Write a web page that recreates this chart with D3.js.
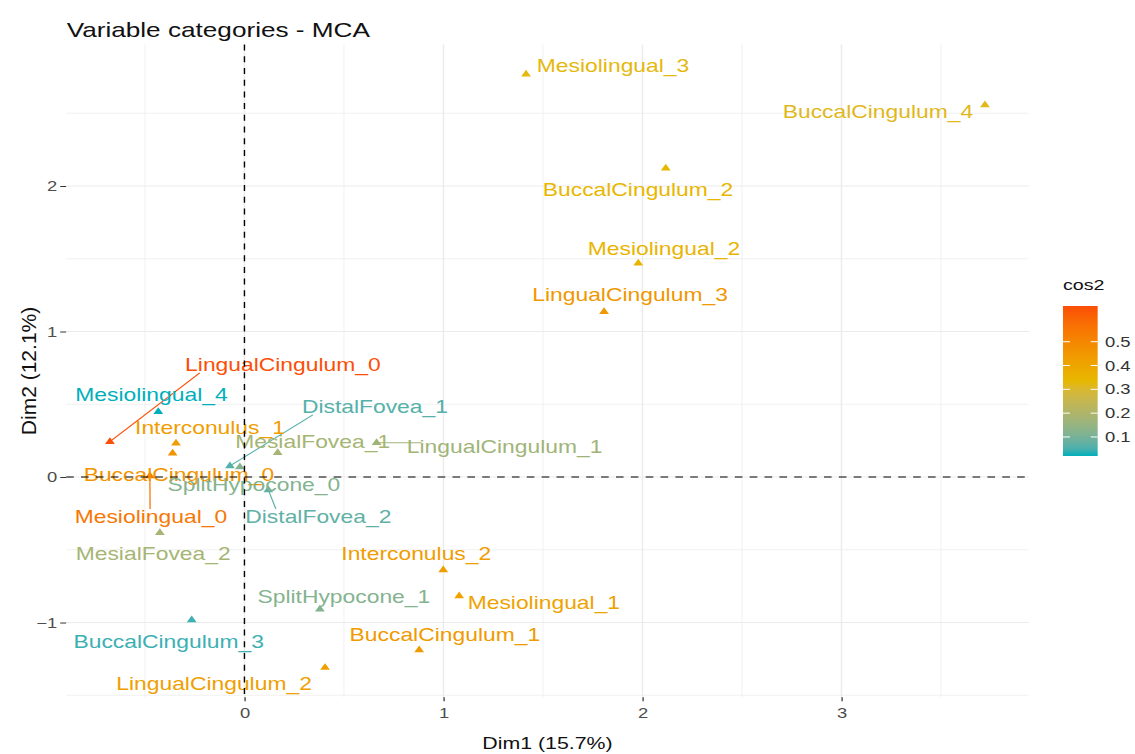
<!DOCTYPE html>
<html>
<head>
<meta charset="utf-8">
<script src="https://cdn.jsdelivr.net/npm/d3@7"></script>
<style>
  html, body { margin: 0; padding: 0; background: #fff; }
  svg { display: block; }
  text { font-family: "Liberation Sans", Arial, Helvetica, sans-serif; }
</style>
</head>
<body>
<div id="chart"></div>
<script>
// data
const categories = [
  "Mesiolingual_3", "BuccalCingulum_4", "BuccalCingulum_2", "Mesiolingual_2",
  "LingualCingulum_3", "LingualCingulum_0", "Mesiolingual_4", "Interconulus_1",
  "BuccalCingulum_0", "Mesiolingual_0", "DistalFovea_1", "SplitHypocone_0",
  "DistalFovea_2", "MesialFovea_1", "LingualCingulum_1", "MesialFovea_2",
  "Interconulus_2", "SplitHypocone_1", "Mesiolingual_1", "BuccalCingulum_1",
  "BuccalCingulum_3", "LingualCingulum_2"
];
const dim1 = [1.415, 3.721, 2.117, 1.979, 1.807, -0.676, -0.433, -0.344, -0.361, -0.475, -0.073,
  -0.023, 0.120, 0.167, 0.664, -0.425, 0.999, 0.379, 1.079, 0.878, -0.265, 0.405];
const dim2 = [2.768, 2.557, 2.122, 1.469, 1.136, 0.243, 0.449, 0.232, 0.163, 0.007, 0.076,
  0.069, -0.089, 0.167, 0.236, -0.383, -0.639, -0.909, -0.818, -1.189, -0.983, -1.31];
const cos2 = [0.33, 0.32, 0.34, 0.35, 0.45, 0.65, 0.02, 0.43, 0.46, 0.55, 0.06,
  0.12, 0.07, 0.18, 0.17, 0.18, 0.43, 0.12, 0.41, 0.44, 0.04, 0.42];

const xTickValues = [0, 1, 2, 3];
const yTickValues = [-1, 0, 1, 2];
const cos2TickValues = [0.1, 0.2, 0.3, 0.4, 0.5];
const gradientColors = ["#00AFBB", "#E7B800", "#FC4E07"];

// where the repelled labels ended up, offset from their point in screen px
const labelNudge = [
  [87, -8.6], [-107, 6.7], [-27.7, 21.7], [25.7, -15], [26, -16.7], [173, -76.7],
  [-6.8, -16.7], [34, -15.3], [6.3, 21.7], [1, 41], [145, -59], [14, 18],
  [50, 27], [35, -10.7], [128, 4], [-6.7, 21.3], [-27, -16], [24, -12.6],
  [84.7, 7], [25.7, -15], [-23, 21.7], [-111, 16]
];

const WIDTH = 1135, HEIGHT = 754;
const STRETCH = 1.27; // the source image is stretched sideways
const VIEW_W = WIDTH / STRETCH;
const panel = {left: 52.1, right: 810, top: 44.6, bottom: 697.3};
const LABEL_SIZE = 18;

let rows = categories.map((name, i) => ({
  name: name, x: dim1[i], y: dim2[i], cos2: cos2[i], nudge: labelNudge[i]
}));

function expand(ext) {
  let pad = (ext[1] - ext[0]) * 0.05;
  return [ext[0] - pad, ext[1] + pad];
}

let xScale = d3.scaleLinear().domain(expand(d3.extent(dim1))).range([panel.left, panel.right]);
let yScale = d3.scaleLinear().domain(expand(d3.extent(dim2))).range([panel.bottom, panel.top]);
let cosExtent = d3.extent(cos2);
let color = d3.scaleLinear()
    .domain([cosExtent[0], (cosExtent[0] + cosExtent[1]) / 2, cosExtent[1]])
    .range(gradientColors)
    .interpolate(d3.interpolateLab);

let svg = d3.select("#chart").append("svg")
    .attr("width", WIDTH)
    .attr("height", HEIGHT)
    .attr("viewBox", "0 0 " + VIEW_W + " " + HEIGHT)
    .attr("preserveAspectRatio", "none");

// grid, minor first
let minorX = d3.range(-0.5, 4, 1).filter(v => v > xScale.domain()[0] && v < xScale.domain()[1]);
let minorY = d3.range(-1.5, 3, 1).filter(v => v > yScale.domain()[0] && v < yScale.domain()[1]);
let grid = svg.append("g").attr("class", "grid").attr("stroke", "#ebebeb").attr("fill", "none");
grid.selectAll(".minor-x").data(minorX).enter().append("line")
    .attr("x1", d => xScale(d)).attr("x2", d => xScale(d))
    .attr("y1", panel.top).attr("y2", panel.bottom)
    .attr("stroke-width", 0.6);
grid.selectAll(".minor-y").data(minorY).enter().append("line")
    .attr("y1", d => yScale(d)).attr("y2", d => yScale(d))
    .attr("x1", panel.left).attr("x2", panel.right)
    .attr("stroke-width", 0.6);
grid.selectAll(".major-x").data(xTickValues).enter().append("line")
    .attr("x1", d => xScale(d)).attr("x2", d => xScale(d))
    .attr("y1", panel.top).attr("y2", panel.bottom)
    .attr("stroke-width", 1.1);
grid.selectAll(".major-y").data(yTickValues).enter().append("line")
    .attr("y1", d => yScale(d)).attr("y2", d => yScale(d))
    .attr("x1", panel.left).attr("x2", panel.right)
    .attr("stroke-width", 1.1);

// axes
let yAxis = d3.axisLeft(yScale).tickValues(yTickValues).tickSize(4.7).tickPadding(2.4)
    .tickFormat(d3.format("d"));
let xAxis = d3.axisBottom(xScale).tickValues(xTickValues).tickSize(4).tickPadding(6)
    .tickFormat(d3.format("d"));
let yAxisG = svg.append("g").attr("transform", "translate(" + panel.left + ",0)").call(yAxis);
let xAxisG = svg.append("g").attr("transform", "translate(0," + panel.bottom + ")").call(xAxis);
[yAxisG, xAxisG].forEach(g => {
  g.select(".domain").remove();
  g.selectAll(".tick line").attr("stroke", "#333").attr("stroke-width", 1);
  g.selectAll(".tick text").attr("fill", "#4d4d4d").style("font-size", "14.5px")
      .style("font-family", "'Liberation Sans', Arial, sans-serif");
});

// points
let pointsG = svg.append("g").attr("class", "points");
pointsG.selectAll("path").data(rows).enter().append("path")
    .attr("d", d3.symbol(d3.symbolTriangle, 26))
    .attr("transform", d => "translate(" + xScale(d.x) + "," + yScale(d.y) + ")")
    .attr("fill", d => color(d.cos2));

// labels
let segG = svg.append("g").attr("class", "segments");
let labelG = svg.append("g").attr("class", "labels");
let labels = labelG.selectAll("text").data(rows).enter().append("text")
    .attr("x", d => xScale(d.x) + d.nudge[0] / STRETCH)
    .attr("y", d => yScale(d.y) + d.nudge[1])
    .attr("dy", "0.35em")
    .attr("text-anchor", "middle")
    .style("font-size", LABEL_SIZE + "px")
    .attr("fill", d => color(d.cos2))
    .text(d => d.name);

// segments when the label sits far from its point, ggrepel style
labels.each(function(d) {
  let w = this.getComputedTextLength();
  let cx = xScale(d.x) + d.nudge[0] / STRETCH;
  let cy = yScale(d.y) + d.nudge[1];
  let px = xScale(d.x), py = yScale(d.y);
  let nx = Math.max(cx - w / 2, Math.min(px, cx + w / 2));
  let ny = Math.max(cy - 8, Math.min(py, cy + 8));
  let dist = Math.hypot((nx - px) * STRETCH, ny - py);
  if (dist > 16) {
    // lean the end toward the label centre a little
    nx = Math.max(cx - w / 2, Math.min(nx + (cx - nx) * 0.15, cx + w / 2));
    segG.append("line")
        .attr("x1", px).attr("y1", py)
        .attr("x2", nx).attr("y2", ny)
        .attr("stroke", color(d.cos2))
        .attr("stroke-width", 1);
  }
});

// reference lines at the origin
svg.append("line")
    .attr("x1", panel.left).attr("x2", panel.right)
    .attr("y1", yScale(0)).attr("y2", yScale(0))
    .attr("stroke", "#000").attr("stroke-width", 1.1).attr("stroke-dasharray", "6,5.7");
svg.append("line")
    .attr("x1", xScale(0)).attr("x2", xScale(0))
    .attr("y1", panel.top).attr("y2", panel.bottom)
    .attr("stroke", "#000").attr("stroke-width", 1.1).attr("stroke-dasharray", "6,5.7");

// titles
svg.append("text")
    .attr("x", 52.5).attr("y", 37.5)
    .style("font-size", "20.6px")
    .attr("fill", "#111")
    .text("Variable categories - MCA");
svg.append("text")
    .attr("x", (panel.left + panel.right) / 2).attr("y", 749)
    .attr("text-anchor", "middle")
    .style("font-size", "16.8px")
    .attr("fill", "#111")
    .text("Dim1 (15.7%)");
svg.append("text")
    .attr("transform", "translate(" + (36 / STRETCH) + "," + ((panel.top + panel.bottom) / 2) + ") scale(" + (1 / STRETCH) + ",1) rotate(-90)")
    .attr("text-anchor", "middle")
    .style("font-size", "21px")
    .attr("fill", "#111")
    .text("Dim2 (12.1%)");

// colour bar legend
let legend = {x: 837, y: 306, w: 27.3, h: 150};
let legendScale = d3.scaleLinear().domain(cosExtent).range([legend.y + legend.h, legend.y]);
let grad = svg.append("defs").append("linearGradient")
    .attr("id", "cos2-grad")
    .attr("x1", 0).attr("x2", 0).attr("y1", 1).attr("y2", 0);
grad.selectAll("stop").data(d3.range(0, 1.0001, 0.05)).enter().append("stop")
    .attr("offset", d => d)
    .attr("stop-color", d => color(cosExtent[0] + d * (cosExtent[1] - cosExtent[0])));
let legendG = svg.append("g").attr("class", "legend");
legendG.append("text")
    .attr("x", legend.x).attr("y", 290)
    .style("font-size", "15.5px")
    .attr("fill", "#111")
    .text("cos2");
legendG.append("rect")
    .attr("x", legend.x).attr("y", legend.y)
    .attr("width", legend.w).attr("height", legend.h)
    .attr("fill", "url(#cos2-grad)");
let lt = legendG.selectAll(".ltick").data(cos2TickValues).enter().append("g");
lt.append("line")
    .attr("x1", legend.x).attr("x2", legend.x + legend.w / 5)
    .attr("y1", d => legendScale(d)).attr("y2", d => legendScale(d))
    .attr("stroke", "#fff").attr("stroke-width", 1);
lt.append("line")
    .attr("x1", legend.x + legend.w * 4 / 5).attr("x2", legend.x + legend.w)
    .attr("y1", d => legendScale(d)).attr("y2", d => legendScale(d))
    .attr("stroke", "#fff").attr("stroke-width", 1);
lt.append("text")
    .attr("x", 870).attr("y", d => legendScale(d))
    .attr("dy", "0.35em")
    .style("font-size", "14.5px")
    .attr("fill", "#333")
    .text(d => d3.format(".1f")(d));
</script>
</body>
</html>
